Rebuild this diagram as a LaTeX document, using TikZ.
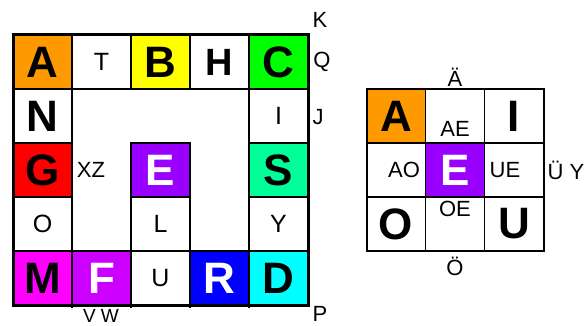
\documentclass[tikz,border=0pt]{standalone}
\usepackage{fontspec}
\setmainfont{Liberation Sans}
\usetikzlibrary{positioning}
\definecolor{amber}{HTML}{FF9900}
\definecolor{lemon}{HTML}{FFFF00}
\definecolor{lime}{HTML}{00FF00}
\definecolor{scarlet}{HTML}{FF0000}
\definecolor{grape}{HTML}{9900FF}
\definecolor{mint}{HTML}{00FF99}
\definecolor{fuchsia}{HTML}{FF00FF}
\definecolor{orchid}{HTML}{CC00FF}
\definecolor{royal}{HTML}{0000FF}
\definecolor{aqua}{HTML}{00FFFF}
\begin{document}
\begin{tikzpicture}[x=1pt,y=-1pt,
 cell/.style={draw,line width=2pt,outer sep=0pt,inner sep=0pt,minimum width=59pt,minimum height=54pt,font=\fontsize{25}{25}\selectfont},
 big/.style={cell,font=\fontsize{44}{44}\selectfont\bfseries},
 vcell/.style={line width=1.2pt},
 lbl/.style={inner sep=0pt,font=\fontsize{22}{22}\selectfont}]
 \useasboundingbox(0,0)rectangle(584,326);
 % left square
 \node[big,fill=amber](a)at(42.5,62){A};
 \node[cell](t)at(101.5,62){T};
 \node[big,fill=lemon](b)at(160.5,62){B};
 \node[big,font=\fontsize{38}{38}\selectfont\bfseries](h)at(219.5,62){H};
 \node[big,fill=lime](c)at(278.5,62){C};
 \node[big](n)at(42.5,116){N};
 \node[cell](i)at(278.5,116){I};
 \node[big,fill=scarlet](g)at(42.5,170){G};
 \node[big,fill=grape,text=white](e)at(160.5,170){E};
 \node[big,fill=mint](s)at(278.5,170){S};
 \node[cell](o)at(42.5,224){O};
 \node[cell](l)at(160.5,224){L};
 \node[cell](y)at(278.5,224){Y};
 \node[big,fill=fuchsia](m)at(42.5,278){M};
 \node[big,fill=orchid,text=white](f)at(101.5,278){F};
 \node[cell](u)at(160.5,278){U};
 \node[big,fill=royal,text=white](r)at(219.5,278){R};
 \node[big,fill=aqua](d)at(278.5,278){D};
 \draw[line width=3pt](a.north west)rectangle(d.south east);
 \draw[line width=2pt](m.south east)--++(0,3)(f.south east)--++(0,3)(u.south east)--++(0,3)(r.south east)--++(0,3);
 \node[lbl](xz)at(91,170){XZ};
 \node[lbl](k)at(320,20){K};\node[lbl](q)at(322,62){Q};
 \node[lbl](j)at(318,117){J};\node[lbl](p)at(320,314){P};
 \node[lbl,font=\fontsize{19}{19}\selectfont](vw)at(101,316){V W};
 % right square
 \node[big,vcell,fill=amber](va)at(396,116){A};
 \node[cell,vcell](vae)at(455,116){};
 \node[big,vcell](vi)at(514,116){I};
 \node[cell,vcell](vao)at(396,170){};
 \node[big,vcell,fill=grape,text=white](ve)at(455,170){E};
 \node[cell,vcell](vue)at(514,170){};
 \node[big,vcell](vo)at(396,224){O};
 \node[cell,vcell](voe)at(455,224){};
 \node[big,vcell](vu)at(514,224){U};
 \draw[line width=2pt](va.north west)rectangle(vu.south east);
 \node[lbl](ae)at([yshift=-13pt]vae.center){AE};
 \node[lbl](ao)at([xshift=8pt]vao.center){AO};
 \node[lbl](ue)at([xshift=-9pt]vue.center){UE};
 \node[lbl](oe)at([yshift=15pt]voe.center){OE};
 \node[lbl](auml)at(455,77){Ä};\node[lbl](ouml)at(455,266){Ö};
 \node[lbl](uy)at(566,170){Ü Y};
\end{tikzpicture}
\end{document}
